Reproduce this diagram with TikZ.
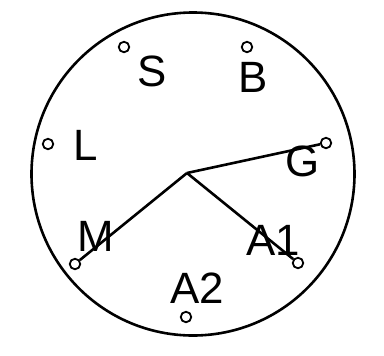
\documentclass[tikz,border=0pt]{standalone}
\usepackage{fontspec}
\setmainfont{Liberation Sans}
\usepackage{tikz}
\usetikzlibrary{positioning}

\begin{document}
\begin{tikzpicture}[
    x=1bp, y=-1bp,
    dial/.style={draw, circle, line width=2.6bp, minimum size=323bp, inner sep=0pt},
    pin/.style={draw, circle, line width=1.8bp, minimum size=10.5bp, inner sep=0pt},
    lbl/.style={font=\fontsize{44}{44}\selectfont, inner sep=0pt},
    wire/.style={line width=2.6bp},
]
\useasboundingbox (0,0) rectangle (384,356);

% Dial
\node[dial] (dial) at (193,174) {};
\coordinate (hub) at (187,173);

% Pins
\node[pin] (pS) at (124,47) {};
\node[pin] (pB) at (247,47) {};
\node[pin] (pL) at (48,144) {};
\node[pin] (pG) at (326,143) {};
\node[pin] (pM) at (75,264) {};
\node[pin] (pA1) at (298,263) {};
\node[pin] (pA2) at (186,317) {};

% Labels
\node[lbl] (tS) at (152,71) {S};
\node[lbl] (tB) at (253,77) {B};
\node[lbl] (tL) at (86,145) {L};
\node[lbl] (tG) at (303,161) {G};
\node[lbl] (tM) at (96,236) {M};
\node[lbl] (tA1) at (273,240) {A1};
\node[lbl] (tA2) at (197,288) {A2};

% Wires
\draw[wire] (hub) -- (pG);
\draw[wire] (hub) -- (pM);
\draw[wire] (hub) -- (pA1);

\end{tikzpicture}
\end{document}
